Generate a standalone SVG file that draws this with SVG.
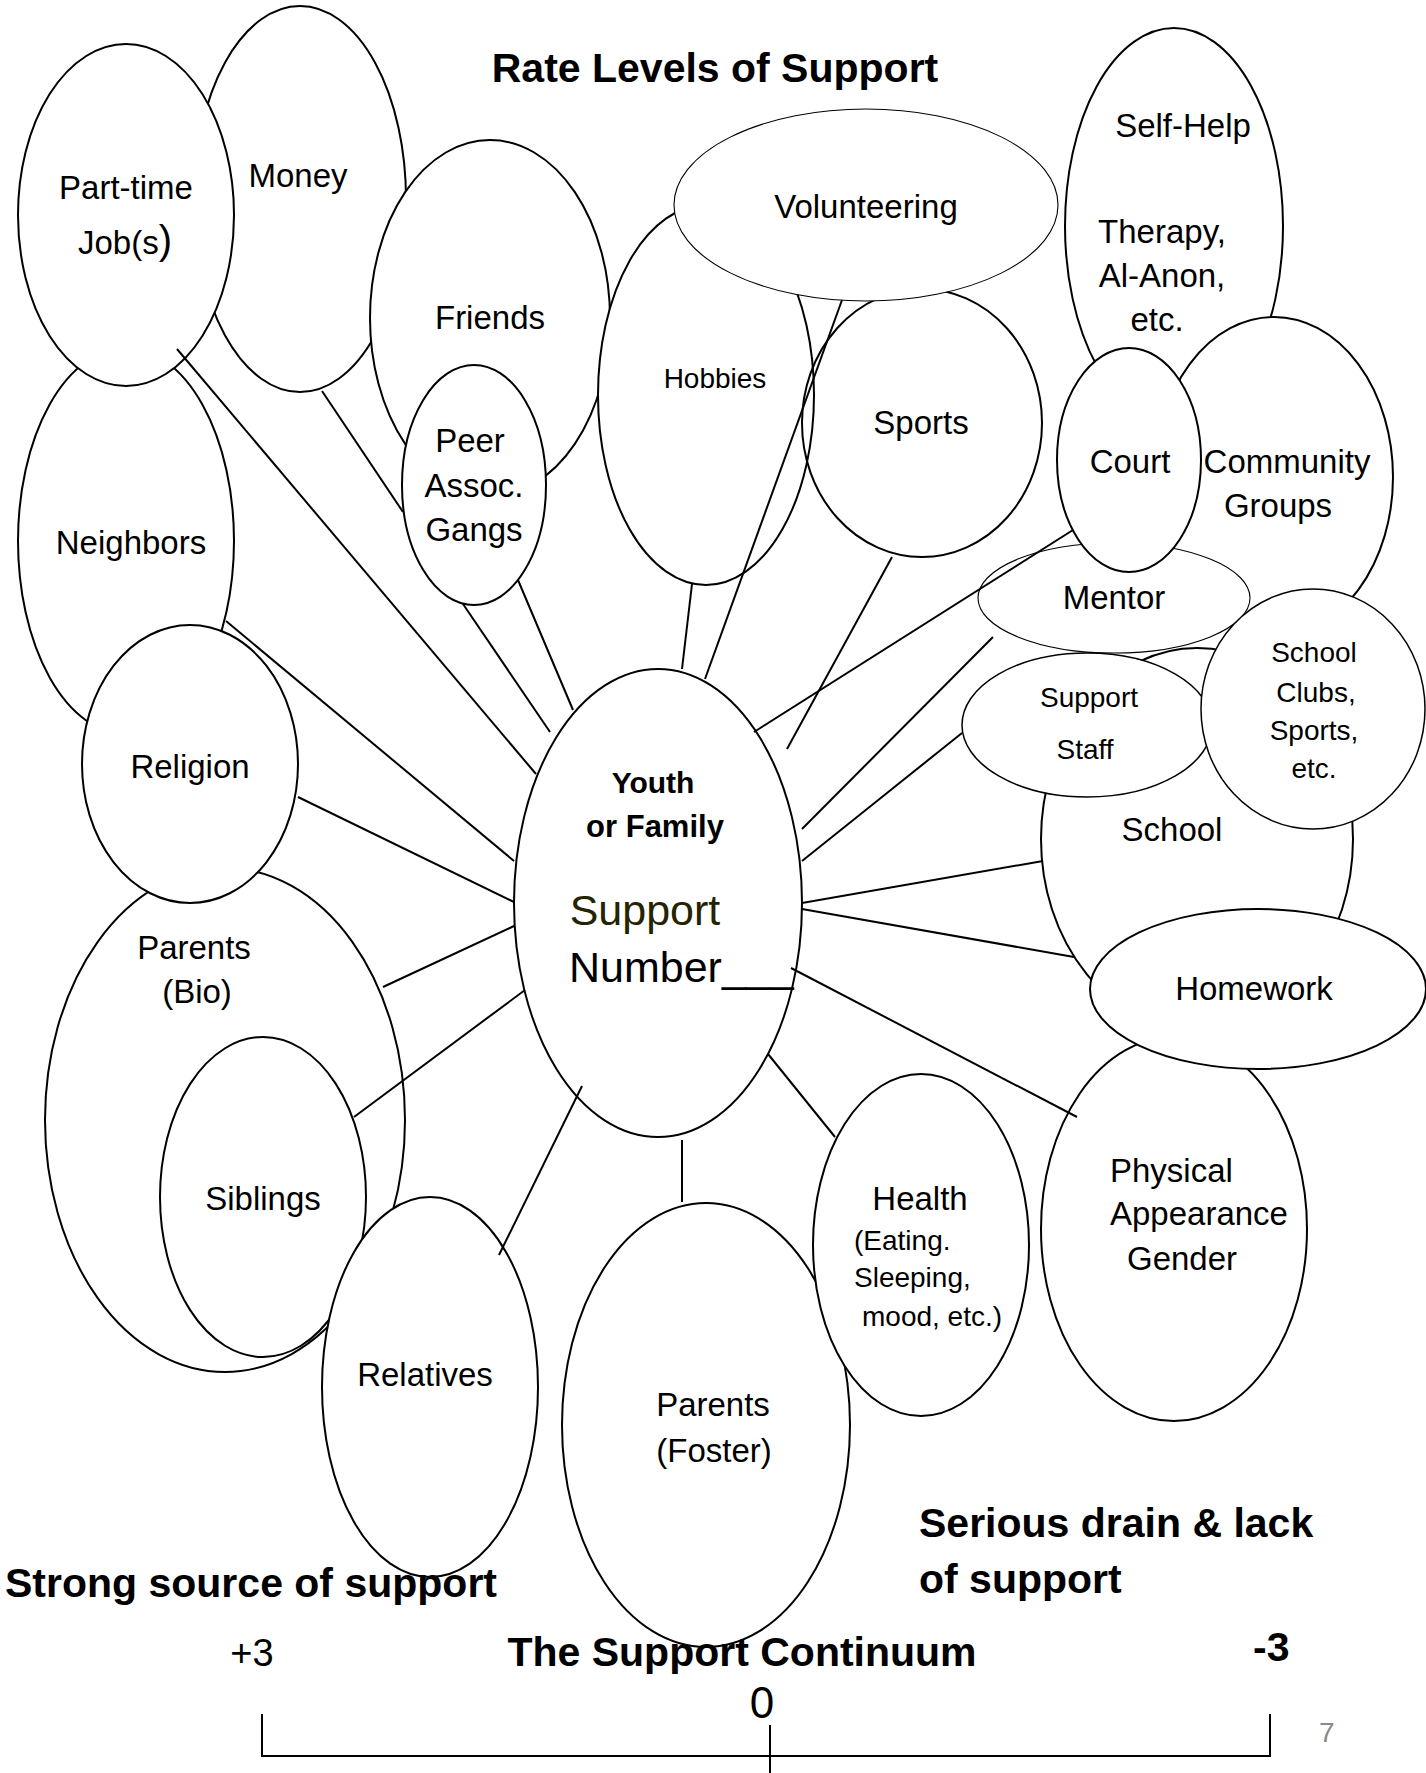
<svg xmlns="http://www.w3.org/2000/svg" width="1426" height="1773" viewBox="0 0 1426 1773">
<style>
.n{fill:#fff;stroke:#000;stroke-width:2}
.nf{fill:none;stroke:#000;stroke-width:2}
.th{fill:#fff;stroke:#000;stroke-width:1.1}
.md{fill:#fff;stroke:#000;stroke-width:1.5}
text{font-family:"Liberation Sans",Arial,sans-serif;fill:#000}
.l{font-size:33px;text-anchor:middle}
.ls{font-size:33px}
.s{font-size:28px;text-anchor:middle}
.ss{font-size:28px}
.h{font-size:41px;font-weight:bold}
.c line,.c path{stroke:#000;stroke-width:2;fill:none}
</style>
<rect width="1426" height="1773" fill="#fff"/>
<text class="h" x="715" y="82" text-anchor="middle">Rate Levels of Support</text>
<g id="money"><ellipse class="n" cx="300" cy="199" rx="106" ry="193"/><text class="l" x="298" y="187">Money</text></g>
<g id="neighbors"><ellipse class="n" cx="126" cy="541" rx="108" ry="193"/><text class="l" x="131" y="554">Neighbors</text></g>
<g id="parttime"><ellipse class="n" cx="126" cy="215" rx="108" ry="171"/><text class="l" x="126" y="199">Part-time</text><text class="l" x="125" y="254">Job(s<tspan font-size="40">)</tspan></text></g>
<g id="friends"><ellipse class="n" cx="490" cy="318" rx="120" ry="178"/><text class="l" x="490" y="329">Friends</text></g>
<g id="peer"><ellipse class="n" cx="474" cy="485" rx="72" ry="120"/><text class="l" x="470" y="452">Peer</text><text class="l" x="474" y="497">Assoc.</text><text class="l" x="474" y="541">Gangs</text></g>
<g id="hobbies"><ellipse class="n" cx="706" cy="395" rx="108" ry="190"/><text class="s" x="715" y="388">Hobbies</text></g>
<g id="sports"><ellipse class="nf" cx="922" cy="423" rx="120" ry="134"/><text class="l" x="921" y="434">Sports</text></g>
<g id="volunteering"><ellipse class="th" cx="866" cy="205" rx="192" ry="96"/><text class="l" x="866" y="218">Volunteering</text></g>
<g id="selfhelp"><ellipse class="n" cx="1174" cy="226" rx="109" ry="198"/><text class="l" x="1183" y="137">Self-Help</text><text class="l" x="1162" y="243">Therapy,</text><text class="l" x="1162" y="287">Al-Anon,</text><text class="l" x="1157" y="331">etc.</text></g>
<g id="community"><ellipse class="n" cx="1274" cy="477" rx="119" ry="160"/><text class="l" x="1287" y="473">Community</text><text class="l" x="1278" y="517">Groups</text></g>
<g id="mentor"><ellipse class="th" cx="1114" cy="598" rx="136" ry="55"/><text class="l" x="1114" y="609">Mentor</text></g>
<g id="court"><ellipse class="n" cx="1129" cy="460" rx="72" ry="112"/><text class="l" x="1130" y="473">Court</text></g>
<g id="school"><ellipse class="n" cx="1197" cy="839" rx="156" ry="191"/><text class="l" x="1172" y="841">School</text></g>
<g id="supportstaff"><ellipse class="md" cx="1087" cy="725" rx="125" ry="72"/><text class="s" x="1089" y="707">Support</text><text class="s" x="1085" y="759">Staff</text></g>
<g id="schoolclubs"><ellipse class="md" cx="1313" cy="709" rx="112" ry="120"/><text class="s" x="1314" y="662">School</text><text class="s" x="1316" y="702">Clubs,</text><text class="s" x="1314" y="740">Sports,</text><text class="s" x="1314" y="778">etc.</text></g>
<g id="physical"><ellipse class="n" cx="1174" cy="1229" rx="133" ry="192"/><text class="ls" x="1110" y="1182">Physical</text><text class="ls" x="1110" y="1225">Appearance</text><text class="ls" x="1127" y="1270">Gender</text></g>
<g id="homework"><ellipse class="n" cx="1258" cy="989" rx="168" ry="80"/><text class="l" x="1254" y="1000">Homework</text></g>
<g id="foster"><ellipse class="n" cx="706" cy="1425" rx="144" ry="222"/><text class="l" x="713" y="1416">Parents</text><text class="l" x="714" y="1462">(Foster)</text></g>
<g id="health"><ellipse class="n" cx="921" cy="1245" rx="108" ry="171"/><text class="l" x="920" y="1210">Health</text><text class="ss" x="854" y="1250">(Eating.</text><text class="ss" x="854" y="1287">Sleeping,</text><text class="ss" x="862" y="1326">mood, etc.)</text></g>
<g id="parentsbio"><ellipse class="n" cx="225" cy="1120" rx="180" ry="252"/><text class="l" x="194" y="959">Parents</text><text class="l" x="197" y="1003">(Bio)</text></g>
<g id="siblings"><ellipse class="n" cx="263" cy="1197" rx="103" ry="160"/><text class="l" x="263" y="1210">Siblings</text></g>
<g id="relatives"><ellipse class="n" cx="430" cy="1387" rx="108" ry="190"/><text class="l" x="425" y="1386">Relatives</text></g>
<g id="religion"><ellipse class="n" cx="190" cy="764" rx="108" ry="139"/><text class="l" x="190" y="778">Religion</text></g>
<g id="center"><ellipse class="n" cx="658" cy="903" rx="144" ry="234"/><text x="653" y="793" font-size="30" font-weight="bold" text-anchor="middle">Youth</text><text x="655" y="837" font-size="31" font-weight="bold" text-anchor="middle">or Family</text><text x="645" y="925" font-size="43" text-anchor="middle" style="fill:#242400">Support</text><text x="569" y="982" font-size="43">Number___</text></g>
<g id="connectors" class="c">
<line x1="177" y1="349" x2="536" y2="774"/>
<line x1="322" y1="391" x2="403" y2="512"/>
<line x1="463" y1="604" x2="550" y2="732"/>
<line x1="518" y1="580" x2="573" y2="710"/>
<line x1="226" y1="621" x2="514" y2="861"/>
<line x1="298" y1="797" x2="514" y2="902"/>
<line x1="383" y1="987" x2="514" y2="926"/>
<line x1="354" y1="1117" x2="525" y2="990"/>
<line x1="499" y1="1255" x2="582" y2="1086"/>
<line x1="682" y1="1140" x2="682" y2="1202"/>
<line x1="768" y1="1054" x2="835" y2="1137"/>
<line x1="791" y1="968" x2="1077" y2="1117"/>
<line x1="802" y1="909" x2="1074" y2="957"/>
<line x1="802" y1="903" x2="1043" y2="861"/>
<line x1="802" y1="861" x2="962" y2="733"/>
<line x1="802" y1="829" x2="993" y2="637"/>
<line x1="754" y1="732" x2="1073" y2="530"/>
<line x1="787" y1="749" x2="892" y2="557"/>
<line x1="705" y1="679" x2="842" y2="300"/>
<line x1="682" y1="669" x2="692" y2="584"/>
<path d="M262,1714 V1756 H1270 V1714"/>
<line x1="770" y1="1725" x2="770" y2="1773"/>
</g>
<text class="h" x="5" y="1597">Strong source of support</text>
<text class="h" x="919" y="1537">Serious drain &amp; lack</text>
<text class="h" x="919" y="1593">of support</text>
<text class="h" x="742" y="1666" text-anchor="middle">The Support Continuum</text>
<text x="252" y="1666" font-size="38" text-anchor="middle">+3</text>
<text class="h" x="1253" y="1661">-3</text>
<text x="762" y="1718" font-size="44" text-anchor="middle">0</text>
<text x="1319" y="1742" font-size="28" style="fill:#8b8b8b">7</text>
</svg>
